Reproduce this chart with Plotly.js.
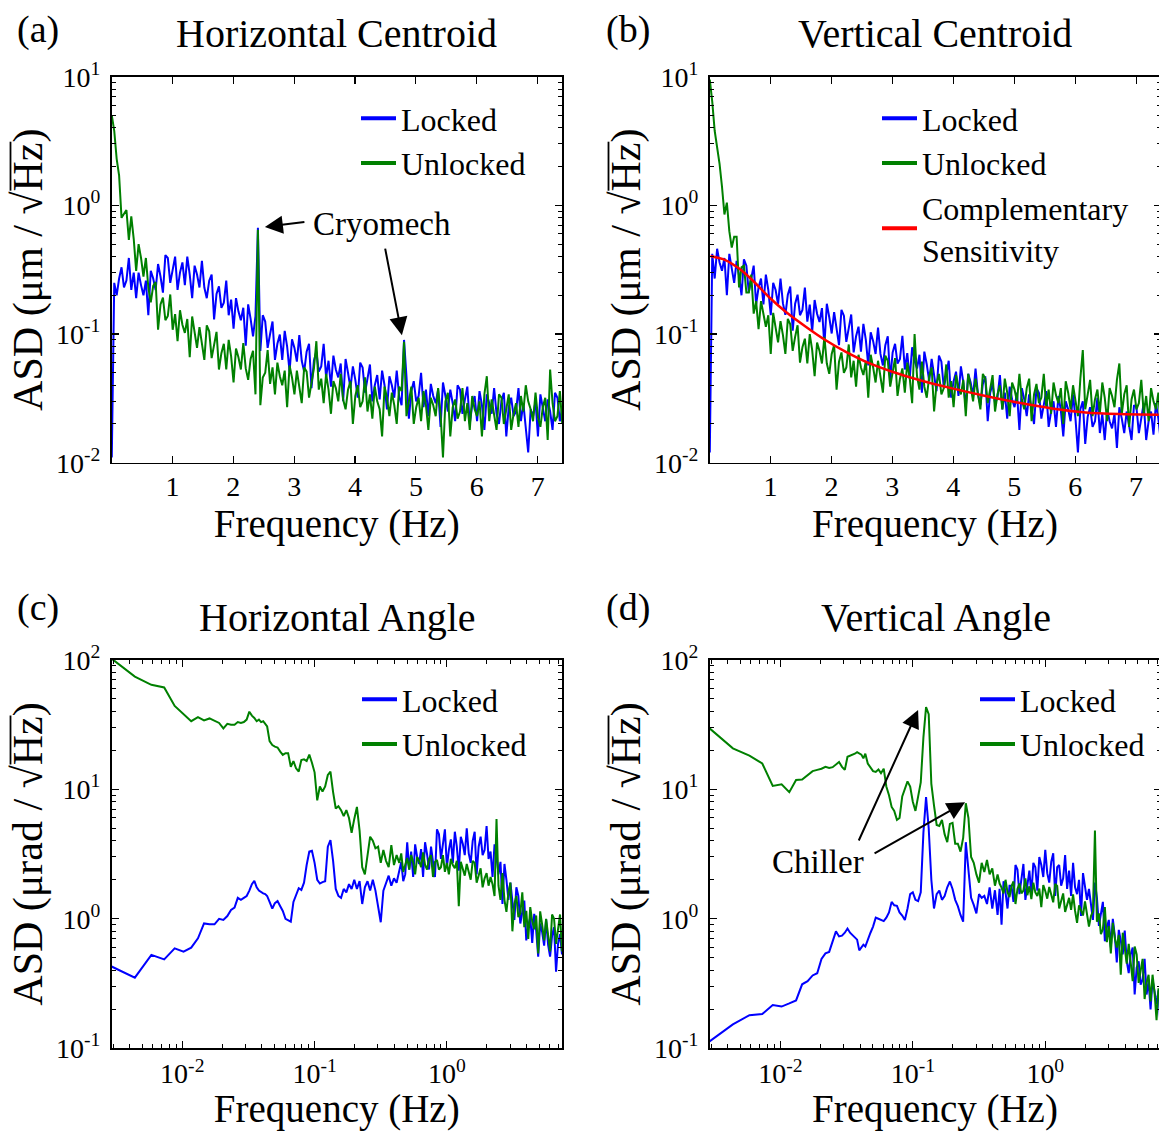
<!DOCTYPE html>
<html>
<head>
<meta charset="utf-8">
<script src="https://cdn.plot.ly/plotly-3.0.1.min.js"></script>
<style>
  html, body { margin: 0; padding: 0; overflow: hidden; background: #fff; }
  #chart { width: 1161px; height: 1131px; }
</style>
</head>
<body>
<div id="chart"></div>
<script>
// ---------- Centroid spectra (linear frequency axis), bins 0.04 Hz apart starting at 0.005 Hz ----------
const centroidF0 = 0.005;
const centroidDf = 0.04;

const hCentroidLocked = [
  0.011, 0.25, 0.2, 0.27, 0.33, 0.23, 0.26, 0.39, 0.22, 0.3,
  0.19, 0.3, 0.24, 0.2, 0.26, 0.14, 0.31, 0.27, 0.22, 0.35,
  0.28, 0.21, 0.41, 0.39, 0.25, 0.33, 0.4, 0.22, 0.3, 0.36,
  0.24, 0.4, 0.29, 0.19, 0.34, 0.29, 0.23, 0.37, 0.23, 0.19,
  0.26, 0.29, 0.13, 0.205, 0.235, 0.16, 0.175, 0.26, 0.14, 0.185,
  0.11, 0.19, 0.15, 0.128, 0.16, 0.081, 0.17, 0.131, 0.096, 0.138,
  0.67, 0.074, 0.14, 0.125, 0.078, 0.1, 0.125, 0.063, 0.084, 0.099,
  0.063, 0.106, 0.08, 0.051, 0.091, 0.078, 0.061, 0.098, 0.062, 0.051,
  0.073, 0.084, 0.038, 0.062, 0.073, 0.051, 0.056, 0.084, 0.046, 0.062,
  0.039, 0.068, 0.053, 0.046, 0.059, 0.03, 0.064, 0.05, 0.038, 0.056,
  0.044, 0.032, 0.06, 0.055, 0.035, 0.045, 0.058, 0.03, 0.04, 0.048,
  0.031, 0.052, 0.04, 0.026, 0.047, 0.04, 0.032, 0.052, 0.033, 0.028,
  0.09, 0.047, 0.022, 0.036, 0.043, 0.03, 0.033, 0.05, 0.027, 0.037,
  0.023, 0.041, 0.033, 0.029, 0.037, 0.019, 0.042, 0.033, 0.025, 0.037,
  0.029, 0.021, 0.04, 0.037, 0.024, 0.031, 0.039, 0.02, 0.028, 0.033,
  0.021, 0.036, 0.028, 0.018, 0.034, 0.029, 0.024, 0.038, 0.024, 0.02,
  0.03, 0.035, 0.016, 0.027, 0.032, 0.023, 0.025, 0.038, 0.021, 0.029,
  0.018, 0.012, 0.026, 0.023, 0.03, 0.016, 0.034, 0.027, 0.021, 0.031,
  0.025, 0.018, 0.035, 0.032, 0.021, 0.027
];

const hCentroidUnlocked = [
  5.0, 3.8, 2.3, 1.7, 0.8, 0.86, 0.92, 0.54, 0.82, 0.55,
  0.31, 0.5, 0.39, 0.28, 0.39, 0.23, 0.176, 0.237, 0.254, 0.108,
  0.17, 0.192, 0.128, 0.138, 0.203, 0.108, 0.143, 0.088, 0.153, 0.118,
  0.102, 0.131, 0.066, 0.137, 0.105, 0.078, 0.113, 0.087, 0.063, 0.117,
  0.105, 0.065, 0.083, 0.104, 0.053, 0.071, 0.084, 0.053, 0.09, 0.067,
  0.042, 0.077, 0.066, 0.053, 0.085, 0.054, 0.044, 0.064, 0.074, 0.034,
  0.645, 0.028, 0.046, 0.05, 0.075, 0.041, 0.055, 0.034, 0.06, 0.047,
  0.04, 0.052, 0.027, 0.057, 0.046, 0.034, 0.052, 0.04, 0.029, 0.055,
  0.051, 0.032, 0.042, 0.054, 0.088, 0.037, 0.045, 0.029, 0.049, 0.037,
  0.024, 0.043, 0.038, 0.03, 0.049, 0.031, 0.026, 0.037, 0.043, 0.02,
  0.033, 0.04, 0.027, 0.03, 0.046, 0.025, 0.034, 0.022, 0.039, 0.03,
  0.026, 0.016, 0.039, 0.032, 0.023, 0.035, 0.028, 0.02, 0.039, 0.036,
  0.087, 0.023, 0.03, 0.039, 0.02, 0.027, 0.032, 0.021, 0.036, 0.028,
  0.018, 0.032, 0.028, 0.023, 0.038, 0.024, 0.011, 0.03, 0.035, 0.016,
  0.027, 0.031, 0.022, 0.025, 0.038, 0.021, 0.029, 0.018, 0.033, 0.026,
  0.023, 0.03, 0.016, 0.034, 0.047, 0.021, 0.031, 0.024, 0.018, 0.034,
  0.032, 0.02, 0.027, 0.034, 0.018, 0.024, 0.029, 0.019, 0.033, 0.025,
  0.04, 0.03, 0.026, 0.021, 0.035, 0.0225, 0.019, 0.027, 0.032, 0.015,
  0.053, 0.029, 0.021, 0.023, 0.036, 0.02
];

const vCentroidLocked = [
  0.012, 0.42, 0.27, 0.46, 0.36, 0.31, 0.39, 0.2, 0.42, 0.33,
  0.25, 0.37, 0.285, 0.2, 0.38, 0.34, 0.21, 0.27, 0.34, 0.17,
  0.23, 0.27, 0.17, 0.29, 0.22, 0.14, 0.25, 0.22, 0.17, 0.27,
  0.173, 0.141, 0.202, 0.234, 0.106, 0.172, 0.202, 0.14, 0.154, 0.23,
  0.125, 0.169, 0.105, 0.184, 0.144, 0.124, 0.159, 0.081, 0.172, 0.135,
  0.101, 0.148, 0.114, 0.082, 0.154, 0.139, 0.087, 0.112, 0.142, 0.072,
  0.096, 0.114, 0.073, 0.12, 0.09, 0.057, 0.103, 0.088, 0.07, 0.112,
  0.07, 0.057, 0.082, 0.096, 0.044, 0.072, 0.084, 0.059, 0.064, 0.097,
  0.053, 0.071, 0.045, 0.079, 0.062, 0.054, 0.069, 0.035, 0.073, 0.058,
  0.043, 0.064, 0.049, 0.036, 0.068, 0.061, 0.038, 0.049, 0.062, 0.032,
  0.043, 0.051, 0.033, 0.056, 0.042, 0.027, 0.049, 0.042, 0.033, 0.054,
  0.034, 0.028, 0.041, 0.047, 0.021, 0.035, 0.041, 0.029, 0.032, 0.048,
  0.026, 0.035, 0.022, 0.039, 0.031, 0.027, 0.035, 0.018, 0.038, 0.031,
  0.023, 0.034, 0.027, 0.02, 0.038, 0.035, 0.022, 0.029, 0.036, 0.019,
  0.025, 0.03, 0.019, 0.033, 0.0255, 0.016, 0.03, 0.026, 0.021, 0.034,
  0.022, 0.012, 0.026, 0.03, 0.014, 0.0228, 0.027, 0.019, 0.021, 0.032,
  0.017, 0.024, 0.015, 0.026, 0.021, 0.0185, 0.024, 0.013, 0.027, 0.022,
  0.017, 0.025, 0.02, 0.015, 0.028, 0.027, 0.017, 0.023, 0.029, 0.015,
  0.021, 0.025, 0.0165, 0.029, 0.022, 0.0145
];

const vCentroidUnlocked = [
  9.5, 6.4, 3.8, 2.8, 2.1, 1.4, 0.85, 1.05, 0.63, 0.47,
  0.57, 0.57, 0.23, 0.33, 0.34, 0.21, 0.21, 0.29, 0.144, 0.18,
  0.109, 0.18, 0.138, 0.114, 0.14, 0.07, 0.146, 0.116, 0.086, 0.126,
  0.098, 0.07, 0.131, 0.119, 0.074, 0.095, 0.117, 0.06, 0.079, 0.092,
  0.059, 0.1, 0.075, 0.047, 0.086, 0.074, 0.059, 0.095, 0.059, 0.049,
  0.07, 0.082, 0.037, 0.061, 0.072, 0.05, 0.055, 0.083, 0.046, 0.062,
  0.039, 0.069, 0.055, 0.048, 0.062, 0.032, 0.069, 0.055, 0.042, 0.062,
  0.048, 0.035, 0.068, 0.062, 0.039, 0.051, 0.065, 0.033, 0.045, 0.054,
  0.035, 0.06, 0.0456, 0.029, 0.1, 0.047, 0.037, 0.061, 0.039, 0.032,
  0.047, 0.055, 0.025, 0.041, 0.049, 0.034, 0.038, 0.058, 0.032, 0.043,
  0.027, 0.048, 0.0386, 0.034, 0.044, 0.023, 0.049, 0.039, 0.03, 0.045,
  0.035, 0.026, 0.049, 0.045, 0.029, 0.038, 0.048, 0.025, 0.034, 0.04,
  0.026, 0.045, 0.035, 0.023, 0.042, 0.037, 0.03, 0.049, 0.031, 0.026,
  0.038, 0.045, 0.021, 0.034, 0.041, 0.029, 0.032, 0.049, 0.027, 0.037,
  0.024, 0.042, 0.0335, 0.029, 0.038, 0.02, 0.043, 0.035, 0.026, 0.04,
  0.031, 0.023, 0.045, 0.075, 0.026, 0.034, 0.044, 0.023, 0.031, 0.037,
  0.024, 0.042, 0.032, 0.021, 0.038, 0.033, 0.027, 0.044, 0.059, 0.024,
  0.034, 0.04, 0.019, 0.031, 0.037, 0.026, 0.029, 0.044, 0.024, 0.033,
  0.021, 0.038, 0.03, 0.026, 0.035, 0.018
];

// Complementary sensitivity of the vertical centroid loop
const compSensFreq = [0.016, 0.26, 0.48, 0.70, 0.97, 1.25, 1.58, 1.90, 2.23, 2.56,
                      3.0, 3.44, 3.98, 4.53, 5.08, 5.62, 6.17, 6.72, 7.37];
const compSensAsd = [0.404, 0.376, 0.324, 0.263, 0.195, 0.149, 0.114, 0.0898, 0.0729, 0.061,
                     0.0509, 0.0439, 0.0378, 0.033, 0.0292, 0.0264, 0.0246, 0.0239, 0.0236];

// ---------- Angle spectra (log frequency axis) ----------
const angleFreq = [
  0.00292, 0.00438, 0.00584, 0.0073, 0.00876, 0.01022, 0.01168, 0.01314, 0.0146, 0.01606,
  0.01752, 0.01898, 0.02044, 0.0219, 0.02336, 0.02482, 0.02628, 0.02774, 0.0292, 0.03066,
  0.03212, 0.03358, 0.03504, 0.0365, 0.03796, 0.03942, 0.04088, 0.04234, 0.0438,
  0.0457, 0.0479, 0.0501, 0.0525, 0.055, 0.0575, 0.0603, 0.0631, 0.0661, 0.0692,
  0.0724, 0.0759, 0.0794, 0.0832, 0.0871, 0.0912, 0.0955, 0.1, 0.1047, 0.1096,
  0.1148, 0.1202, 0.1259, 0.1318, 0.138, 0.1445, 0.1514, 0.1585, 0.166, 0.1738,
  0.182, 0.1905, 0.1995, 0.2089, 0.2188, 0.2291, 0.2399, 0.2512, 0.263, 0.2754,
  0.2884, 0.302, 0.3162, 0.3311, 0.3467, 0.3631, 0.3802, 0.3981, 0.4169, 0.4365,
  0.4519, 0.4677, 0.4842, 0.5012, 0.5188, 0.537, 0.5559, 0.5754, 0.5957, 0.6166,
  0.6383, 0.6607, 0.6839, 0.7079, 0.7328, 0.7586, 0.7852, 0.8128, 0.8414, 0.871,
  0.9016, 0.9333, 0.9661, 1.0, 1.0351, 1.0715, 1.1092, 1.1482, 1.1885, 1.2303,
  1.2735, 1.3183, 1.3646, 1.4125, 1.4622, 1.5136, 1.5668, 1.6218, 1.6788, 1.7378,
  1.7989, 1.8621, 1.9275, 1.9953, 2.0654, 2.138, 2.2131, 2.2909, 2.3714, 2.4547,
  2.541, 2.6303, 2.7227, 2.8184, 2.9174, 3.02, 3.1261, 3.2359, 3.3497, 3.4674,
  3.5892, 3.7154, 3.8459, 3.9811, 4.121, 4.2658, 4.4157, 4.5709, 4.7315, 4.8978,
  5.0699, 5.2481, 5.4325, 5.6234, 5.821, 6.0256, 6.2373, 6.4565, 6.6834, 6.9183,
  7.1614, 7.4131
];

const hAngleLocked = [
  0.428, 0.351, 0.526, 0.486, 0.591, 0.557, 0.598, 0.707, 0.92, 0.906,
  0.906, 1.0, 0.98, 1.05, 1.17, 1.22, 1.45, 1.4, 1.45, 1.5,
  1.65, 1.85, 1.96, 1.75, 1.65, 1.6, 1.57, 1.55, 1.5,
  1.35, 1.2, 1.32, 1.37, 1.25, 1.15, 1.0, 0.97, 0.95, 1.35,
  1.55, 1.72, 1.67, 1.9, 2.6, 3.3, 3.35, 2.7, 2.0, 1.87,
  1.92, 1.95, 3.6, 4.05, 2.8, 1.7, 1.5, 1.45, 1.7, 1.6,
  1.85, 1.7, 2.0, 1.7, 1.95, 1.3, 1.75, 1.95, 1.65, 2.0,
  1.65, 1.25, 0.94, 1.65, 1.9, 2.15, 1.8, 2.05, 1.9, 2.3,
  2.75, 1.95, 2.2, 3.9, 2.4, 3.3, 2.1, 3.75, 3.0, 2.65,
  3.45, 2.1, 3.9, 3.15, 2.4, 3.6, 2.85, 2.1, 4.9, 4.5,
  2.9, 3.8, 4.9, 2.5, 3.4, 4.1, 2.7, 4.7, 3.6, 2.35,
  4.3, 3.8, 3.1, 5.0, 3.2, 2.7, 4.0, 4.7, 2.2, 3.6,
  4.3, 3.1, 3.4, 5.2, 2.9, 3.3, 2.1, 3.75, 3.0, 2.2,
  2.75, 1.3, 2.65, 2.0, 1.4, 1.9, 1.43, 0.98, 1.75, 1.5,
  0.92, 1.13, 1.38, 0.68, 0.88, 1.03, 0.65, 1.09, 0.81, 0.51,
  0.92, 0.79, 0.62, 0.99, 0.63, 0.51, 0.74, 0.86, 0.39, 0.64,
  0.76, 0.53
];

const hAngleUnlocked = [
  102, 74, 64, 61, 44, 38, 33.5, 36, 34, 35.2,
  34, 32.5, 29.5, 32, 31.5, 31.5, 33, 32.5, 33, 34.5,
  39.7, 37, 35.5, 33.5, 34.5, 33, 33.5, 32, 30.5,
  23.5, 21.9, 21.3, 21, 19.5, 18.4, 19, 19, 14.9, 16.5,
  14.5, 13.7, 16.8, 17, 16.5, 18.5, 16, 13.5, 8.2, 10.5,
  9.6, 10.5, 12.9, 13.7, 9.5, 7.1, 7.4, 6.9, 6.2, 6.9,
  6.0, 4.6, 5.9, 7.3, 4.8, 2.5, 2.2, 3.2, 4.3, 4.0,
  3.5, 3.6, 2.7, 3.4, 2.8, 2.5, 3.7, 2.6, 3.1, 2.7,
  3.2, 2.3, 2.65, 2.95, 2.4, 3.1, 2.75, 2.2, 3.0, 2.8,
  2.5, 3.25, 2.6, 2.4, 2.9, 3.1, 2.1, 2.75, 2.85, 2.4,
  2.5, 3.1, 2.3, 2.7, 2.2, 2.9, 2.6, 2.45, 2.8, 1.25,
  2.75, 2.45, 2.15, 2.65, 2.35, 2.0, 2.8, 2.7, 1.9, 2.15,
  2.45, 1.75, 2.05, 2.25, 1.8, 2.1, 1.85, 1.5, 5.9, 1.8,
  1.4, 2.25, 1.4, 1.13, 1.6, 1.9, 0.8, 1.3, 1.5, 1.03,
  1.1, 1.6, 0.86, 1.15, 0.7, 1.23, 0.96, 0.83, 1.06, 0.54,
  1.14, 0.9, 0.68, 1.0, 0.78, 0.56, 1.08, 1.0, 0.64, 0.84,
  1.08, 0.56
];

const vAngleLocked = [
  0.113, 0.153, 0.18, 0.184, 0.216, 0.21, 0.222, 0.234, 0.312, 0.33,
  0.365, 0.38, 0.49, 0.54, 0.555, 0.67, 0.8, 0.73, 0.74, 0.78,
  0.84, 0.78, 0.75, 0.72, 0.69, 0.57, 0.6, 0.63, 0.61,
  0.7, 0.78, 0.87, 1.02, 1.0, 0.98, 0.96, 1.02, 1.12, 1.35,
  1.27, 1.26, 1.12, 1.06, 0.98, 1.2, 1.55, 1.6, 1.4, 1.37,
  1.6, 4.6, 8.7, 5.0, 2.0, 1.2, 1.55, 1.65, 1.4, 1.5,
  1.75, 1.94, 1.7, 1.4, 1.25, 1.07, 0.95, 3.9, 2.2, 1.45,
  1.28, 1.1, 1.55, 1.45, 1.5, 1.3, 1.75, 1.2, 1.66, 1.07,
  1.7, 0.9, 1.95, 1.6, 1.2, 1.8, 1.8, 1.35, 2.6, 2.4,
  1.55, 2.05, 2.65, 1.4, 1.9, 2.35, 1.55, 2.7, 2.5, 1.65,
  3.0, 2.6, 2.1, 3.4, 2.25, 1.9, 2.75, 3.2, 1.5, 2.5,
  2.6, 1.8, 2.05, 3.1, 1.7, 2.35, 1.5, 2.7, 1.75, 1.55,
  2.0, 1.05, 2.25, 1.8, 1.4, 1.7, 1.33, 0.98, 1.9, 1.45,
  0.88, 1.1, 1.35, 0.67, 0.86, 0.98, 0.6, 1.0, 0.74, 0.46,
  0.82, 0.68, 0.53, 0.81, 0.47, 0.38, 0.53, 0.6, 0.26, 0.42,
  0.47, 0.31, 0.34, 0.49, 0.26, 0.33, 0.2, 0.34, 0.26, 0.22,
  0.28, 0.145
];

const vAngleUnlocked = [
  29.5, 20.7, 18.2, 15.8, 10.6, 10.9, 9.5, 11.8, 11.9, 12.8,
  13.8, 14.1, 14.4, 14.9, 14.6, 14.8, 15.6, 16.2, 14.9, 14.1,
  17.8, 18.1, 18.3, 18.8, 19.3, 18.9, 18.5, 17.3, 18.8,
  15.8, 14.6, 13.8, 13.6, 14.2, 13.3, 14.4, 10.5, 9.0, 7.3,
  6.8, 5.8, 6.0, 8.8, 10.2, 11.5, 10.5, 8.0, 6.8, 9.0,
  11.3, 25, 43, 38, 11, 7.5, 5.3, 5.2, 5.8, 4.5,
  3.9, 5.4, 5.5, 3.8, 3.8, 3.3, 4.2, 7.8, 6.0, 3.0,
  2.7, 2.2, 1.9, 2.7, 2.3, 2.85, 2.2, 2.45, 1.8, 2.2,
  1.87, 1.74, 1.57, 2.0, 1.6, 1.47, 1.78, 1.94, 1.3, 1.7,
  1.87, 1.57, 1.65, 2.05, 1.52, 1.78, 1.42, 1.9, 1.6, 1.5,
  1.71, 1.23, 1.82, 1.64, 1.43, 1.76, 1.56, 1.34, 1.86, 1.79,
  1.2, 1.38, 1.57, 1.13, 1.31, 1.45, 1.17, 1.54, 1.15, 0.93,
  1.27, 1.17, 1.06, 1.36, 1.09, 0.87, 1.05, 1.14, 4.8, 0.95,
  1.1, 0.76, 0.83, 1.23, 0.66, 0.88, 0.54, 0.93, 0.71, 0.6,
  0.75, 0.37, 0.78, 0.61, 0.45, 0.64, 0.48, 0.33, 0.61, 0.53,
  0.32, 0.4, 0.49, 0.24, 0.32, 0.37, 0.23, 0.37, 0.27, 0.165,
  0.29, 0.23
];

// ---------- Tick labels ----------
const linearTickVals = [1, 2, 3, 4, 5, 6, 7];
const linearTickText = ['1', '2', '3', '4', '5', '6', '7'];
const centroidTickVals = [0.01, 0.1, 1, 10];
const centroidTickText = ['10<sup>-2</sup>', '10<sup>-1</sup>', '10<sup>0</sup>', '10<sup>1</sup>'];
const angleTickVals = [0.1, 1, 10, 100];
const angleTickText = ['10<sup>-1</sup>', '10<sup>0</sup>', '10<sup>1</sup>', '10<sup>2</sup>'];
const freqTickVals = [0.01, 0.1, 1];
const freqTickText = ['10<sup>-2</sup>', '10<sup>-1</sup>', '10<sup>0</sup>'];

const panelTitles = ['Horizontal Centroid', 'Vertical Centroid', 'Horizontal Angle', 'Vertical Angle'];
const panelLetters = ['(a)', '(b)', '(c)', '(d)'];
const seriesNames = ['Locked', 'Unlocked', 'Complementary<br>Sensitivity'];
const freqTitleText = 'Frequency (Hz)';
const centroidUnitTitle = 'ASD (μm / √Hz)';
const angleUnitTitle = 'ASD (μrad / √Hz)';

// ---------- Styling ----------
const COLORS = { locked: '#0000ff', unlocked: '#008000', comp: '#ff0000' };
const W = 1161, H = 1131;
const xDom = (l, r) => [l / W, r / W];
const yDom = (top, bottom) => [(H - bottom) / H, (H - top) / H];
const px = v => v / W;
const py = v => 1 - v / H;

function lineTrace(opts, color, width, xa, ya) {
  return Object.assign({
    type: 'scatter', mode: 'lines', showlegend: false, hoverinfo: 'skip',
    line: { color: color, width: width }, xaxis: xa, yaxis: ya
  }, opts);
}
function legendEntry(name, color, legend, xa, ya) {
  return {
    type: 'scatter', mode: 'lines', x: [null], y: [null], name: name,
    line: { color: color, width: 4 }, legend: legend, xaxis: xa, yaxis: ya, hoverinfo: 'skip'
  };
}

const data = [
  // (a)
  lineTrace({ x0: centroidF0, dx: centroidDf, y: hCentroidLocked }, COLORS.locked, 2, 'x', 'y'),
  lineTrace({ x0: centroidF0, dx: centroidDf, y: hCentroidUnlocked }, COLORS.unlocked, 2, 'x', 'y'),
  // (b)
  lineTrace({ x0: centroidF0, dx: centroidDf, y: vCentroidLocked }, COLORS.locked, 2, 'x2', 'y2'),
  lineTrace({ x0: centroidF0, dx: centroidDf, y: vCentroidUnlocked }, COLORS.unlocked, 2, 'x2', 'y2'),
  lineTrace({ x: compSensFreq, y: compSensAsd, line: { color: COLORS.comp, width: 2.5, shape: 'spline', smoothing: 0.8 } }, COLORS.comp, 2.5, 'x2', 'y2'),
  // (c)
  lineTrace({ x: angleFreq, y: hAngleLocked }, COLORS.locked, 2, 'x3', 'y3'),
  lineTrace({ x: angleFreq, y: hAngleUnlocked }, COLORS.unlocked, 2, 'x3', 'y3'),
  // (d)
  lineTrace({ x: angleFreq, y: vAngleLocked }, COLORS.locked, 2, 'x4', 'y4'),
  lineTrace({ x: angleFreq, y: vAngleUnlocked }, COLORS.unlocked, 2, 'x4', 'y4'),
  // legend entries
  legendEntry(seriesNames[0], COLORS.locked, 'legend', 'x', 'y'),
  legendEntry(seriesNames[1], COLORS.unlocked, 'legend', 'x', 'y'),
  legendEntry(seriesNames[0], COLORS.locked, 'legend2', 'x2', 'y2'),
  legendEntry(seriesNames[1], COLORS.unlocked, 'legend2', 'x2', 'y2'),
  legendEntry(seriesNames[2], COLORS.comp, 'legend2', 'x2', 'y2'),
  legendEntry(seriesNames[0], COLORS.locked, 'legend3', 'x3', 'y3'),
  legendEntry(seriesNames[1], COLORS.unlocked, 'legend3', 'x3', 'y3'),
  legendEntry(seriesNames[0], COLORS.locked, 'legend4', 'x4', 'y4'),
  legendEntry(seriesNames[1], COLORS.unlocked, 'legend4', 'x4', 'y4')
];

function frame(extra) {
  return Object.assign({
    showline: true, linecolor: '#000', linewidth: 1.5, mirror: 'ticks',
    ticks: 'inside', ticklen: 7, tickwidth: 1.2, tickcolor: '#000',
    showgrid: false, zeroline: false, fixedrange: true,
    tickfont: { size: 28, color: '#000' }
  }, extra);
}
const minorLog = { ticks: 'inside', ticklen: 4, tickwidth: 1, tickcolor: '#000', dtick: 'D1', showgrid: false };
const axisTitle = (text, size, standoff) => ({ text: text, font: { size: size, color: '#000' }, standoff: standoff });

function linearFreqAxis(domain, anchor) {
  return frame({ domain: domain, anchor: anchor, range: [0, 7.4], tickmode: 'array',
    tickvals: linearTickVals, ticktext: linearTickText, ticklabelstandoff: -2,
    title: axisTitle(freqTitleText, 39, 0) });
}
function logFreqAxis(domain, anchor) {
  return frame({ domain: domain, anchor: anchor, type: 'log', range: [-2.535, 0.87], tickmode: 'array',
    tickvals: freqTickVals, ticktext: freqTickText, minor: minorLog, ticklabelstandoff: 0,
    title: axisTitle(freqTitleText, 39, 9) });
}
function asdAxis(domain, anchor, range, vals, text, title) {
  return frame({ domain: domain, anchor: anchor, type: 'log', range: range, tickmode: 'array',
    tickvals: vals, ticktext: text, minor: minorLog, ticklabelstandoff: 4,
    title: axisTitle(title, 42, 0) });
}

const legendBase = { xanchor: 'left', yanchor: 'top', bgcolor: 'rgba(0,0,0,0)', borderwidth: 0,
  font: { size: 32, color: '#000' }, tracegroupgap: 0, itemwidth: 35,
  itemclick: false, itemdoubleclick: false };

function label(text, x, y, size) {
  return { xref: 'paper', yref: 'paper', x: px(x), y: py(y), text: text, showarrow: false,
    xanchor: 'center', yanchor: 'middle', font: { size: size, color: '#000' } };
}
function arrow(xa, ya, x, y, ax, ay) {
  return { xref: xa, yref: ya, x: x, y: y, ax: ax, ay: ay, showarrow: true, text: '',
    arrowhead: 2, arrowsize: 1.8, arrowwidth: 2, arrowcolor: '#000', font: { size: 1 } };
}
// vinculum over "Hz" in the rotated unit titles
function vinculum(x, yStart, yEnd) {
  return { type: 'line', xref: 'paper', yref: 'paper', x0: px(x), x1: px(x), y0: py(yStart), y1: py(yEnd),
    line: { color: '#000', width: 1.8 }, layer: 'above' };
}

const layout = {
  width: W, height: H, margin: { l: 0, r: 0, t: 0, b: 0 },
  paper_bgcolor: '#fff', plot_bgcolor: '#fff',
  font: { family: 'Liberation Serif, Times New Roman, serif', color: '#000' },
  hovermode: false, showlegend: true,
  xaxis: linearFreqAxis(xDom(111.5, 562), 'y'),
  yaxis: asdAxis(yDom(76.7, 462.7), 'x', [-2, 1], centroidTickVals, centroidTickText, centroidUnitTitle),
  xaxis2: linearFreqAxis(xDom(709.5, 1160.5), 'y2'),
  yaxis2: asdAxis(yDom(76.7, 462.7), 'x2', [-2, 1], centroidTickVals, centroidTickText, centroidUnitTitle),
  xaxis3: logFreqAxis(xDom(111.5, 562), 'y3'),
  yaxis3: asdAxis(yDom(659.7, 1048.3), 'x3', [-1, 2], angleTickVals, angleTickText, angleUnitTitle),
  xaxis4: logFreqAxis(xDom(709.5, 1160.5), 'y4'),
  yaxis4: asdAxis(yDom(659.7, 1048.3), 'x4', [-1, 2], angleTickVals, angleTickText, angleUnitTitle),
  legend:  Object.assign({ x: px(356), y: py(91) }, legendBase),
  legend2: Object.assign({ x: px(877), y: py(91) }, legendBase),
  legend3: Object.assign({ x: px(357), y: py(672) }, legendBase),
  legend4: Object.assign({ x: px(975), y: py(672) }, legendBase),
  shapes: [
    vinculum(10.5, 190.7, 141.7),
    vinculum(608.5, 190.7, 141.7),
    vinculum(10.5, 764.5, 715.5),
    vinculum(608.5, 764.5, 715.5)
  ],
  annotations: [
    label(panelLetters[0], 38, 29, 38),
    label(panelLetters[1], 628, 29, 38),
    label(panelLetters[2], 38, 607, 38),
    label(panelLetters[3], 628, 607, 38),
    label(panelTitles[0], 336, 34, 40),
    label(panelTitles[1], 935, 34, 40),
    label(panelTitles[2], 337, 617, 40),
    label(panelTitles[3], 936, 617, 40),
    // Cryomech lines in the horizontal centroid
    label('Cryomech', 382, 224, 33),
    arrow('x', 'y', 2.52, Math.log10(0.68), 41, -5),
    arrow('x', 'y', 4.77, Math.log10(0.098), -17, -88),
    // Chiller peaks in the vertical angle
    label('Chiller', 818, 862, 33),
    arrow('x4', 'y4', Math.log10(0.1096), Math.log10(40.9), -60, 132),
    arrow('x4', 'y4', Math.log10(0.248), Math.log10(7.94), -92, 52)
  ]
};

Plotly.newPlot('chart', data, layout, { displayModeBar: false, staticPlot: true });
</script>
</body>
</html>
